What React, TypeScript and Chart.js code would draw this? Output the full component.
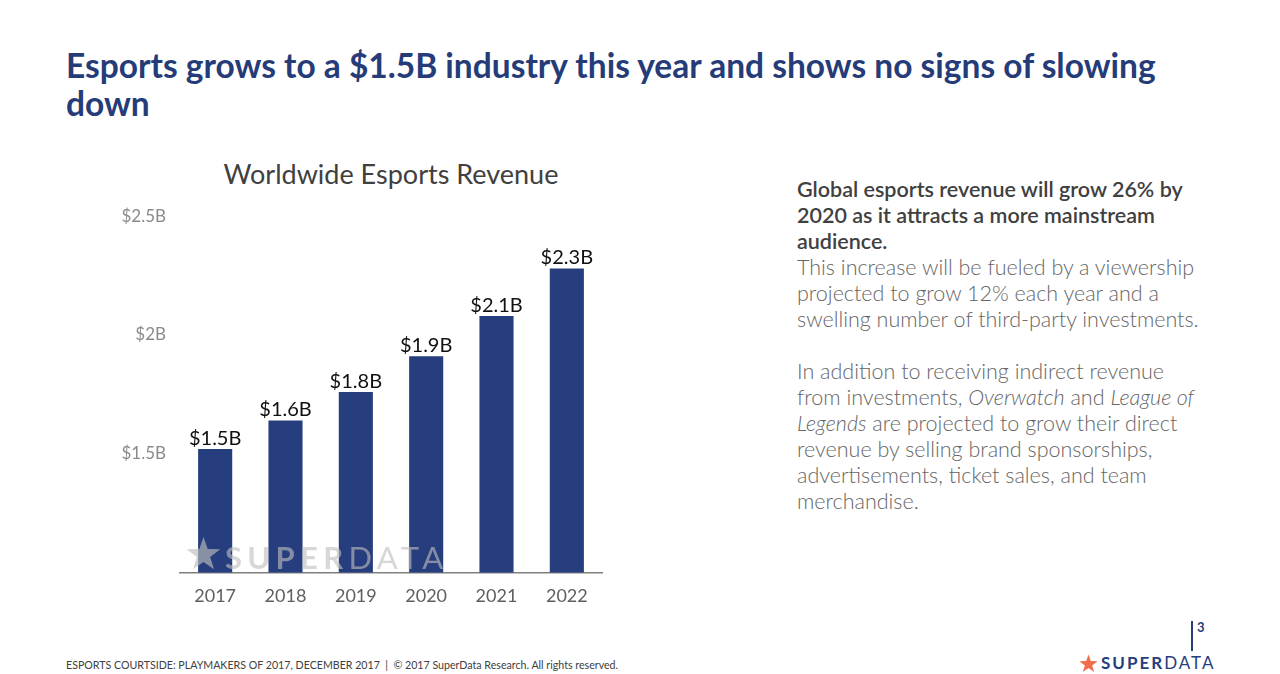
import React, { useEffect, useRef } from 'react';
import { Chart, registerables } from 'chart.js';

Chart.register(...registerables);

const categories = ['2017', '2018', '2019', '2020', '2021', '2022'];
const revenue = [1.52, 1.64, 1.76, 1.91, 2.08, 2.28];
const valueLabels = ['$1.5B', '$1.6B', '$1.8B', '$1.9B', '$2.1B', '$2.3B'];
const yTicks = [1.5, 2, 2.5];
const yTickLabels = ['$1.5B', '$2B', '$2.5B'];
const yMin = 1;
const yMax = 2.5;

const NAVY = '#263e7d';

const barLabelPlugin = {
  id: 'barLabels',
  afterDatasetsDraw(chart: any) {
    const ctx = chart.ctx;
    const meta = chart.getDatasetMeta(0);
    ctx.save();
    ctx.font = '20px Lato';
    ctx.fillStyle = '#111111';
    ctx.textAlign = 'center';
    ctx.textBaseline = 'alphabetic';
    meta.data.forEach((el: any, i: number) => {
      ctx.fillText(valueLabels[i], el.x, el.y - 4);
    });
    ctx.restore();
  },
};

function RevenueChart() {
  const ref = useRef<HTMLCanvasElement | null>(null);
  useEffect(() => {
    if (!ref.current) return;
    const chart = new Chart(ref.current, {
      type: 'bar',
      data: {
        labels: categories,
        datasets: [
          {
            data: revenue,
            backgroundColor: NAVY,
            borderWidth: 0,
            barPercentage: 0.485,
            categoryPercentage: 1,
          },
        ],
      },
      options: {
        animation: false,
        responsive: false,
        devicePixelRatio: 1,
        layout: { padding: { top: 14, right: 8, left: 0, bottom: 0 } },
        plugins: {
          legend: { display: false },
          title: { display: false },
          tooltip: { enabled: false },
        },
        scales: {
          x: {
            grid: { display: false, drawTicks: false },
            border: { display: true, color: '#7f7f7f', width: 1.5 },
            ticks: {
              font: { family: 'Lato', size: 18 },
              color: '#5f5f5f',
              padding: 13,
            },
          },
          y: {
            min: yMin,
            max: yMax,
            afterBuildTicks: (scale: any) => {
              scale.ticks = yTicks.map((v) => ({ value: v }));
            },
            afterFit: (scale: any) => {
              scale.width = 80;
            },
            grid: { display: false, drawTicks: false },
            border: { display: false },
            ticks: {
              font: { family: 'Lato', size: 17 },
              color: '#8a8a8a',
              padding: 14,
              callback: (v: any) => {
                const i = yTicks.indexOf(Number(v));
                return i >= 0 ? yTickLabels[i] : '';
              },
            },
          },
        },
      },
      plugins: [barLabelPlugin],
    } as any);
    return () => chart.destroy();
  }, []);
  return (
    <canvas
      ref={ref}
      width={510}
      height={428}
      style={{ position: 'absolute', left: 100, top: 192, width: 510, height: 428 }}
    />
  );
}

function Star({ size, color }: { size: number; color: string }) {
  return (
    <svg width={size} height={size} viewBox="0 0 100 100" style={{ display: 'block' }}>
      <polygon
        points="50,3 62,37 98,38 69,60 80,95 50,74 20,95 31,60 2,38 38,37"
        fill={color}
      />
    </svg>
  );
}

const abs = (o: any) => ({ position: 'absolute' as const, whiteSpace: 'nowrap' as const, ...o });

export default function App() {
  useEffect(() => {
    document.body.style.margin = '0';
  }, []);

  const boldLines = [
    'Global esports revenue will grow 26% by',
    '2020 as it attracts a more mainstream',
    'audience.',
  ];

  return (
    <div
      style={{
        position: 'relative',
        width: 1280,
        height: 674,
        background: '#ffffff',
        overflow: 'hidden',
        fontFamily: 'Lato, sans-serif',
      }}
    >
      <div
        style={abs({
          left: 66,
          top: 46,
          fontSize: 33.5,
          lineHeight: '38px',
          fontWeight: 700,
          color: '#253c78',
        })}
      >
        Esports grows to a $1.5B industry this year and shows no signs of slowing
        <br />
        down
      </div>

      <div
        style={abs({
          left: 191,
          width: 400,
          top: 159,
          textAlign: 'center',
          fontSize: 27,
          lineHeight: '30px',
          color: '#404040',
        })}
      >
        Worldwide Esports Revenue
      </div>

      <RevenueChart />

      <div
        style={abs({
          left: 186,
          top: 536,
          pointerEvents: 'none',
          opacity: 0.65,
        })}
      >
        <Star size={35} color="#bebebe" />
      </div>
      <div
        style={abs({
          left: 225,
          top: 539,
          fontSize: 31,
          lineHeight: '36px',
          letterSpacing: '5.3px',
          color: 'rgba(190,190,190,0.62)',
          pointerEvents: 'none',
        })}
      >
        <span style={{ fontWeight: 700 }}>SUPER</span>
        <span style={{ fontWeight: 400 }}>DATA</span>
      </div>

      <div
        style={abs({
          left: 797,
          top: 175.5,
          fontSize: 21.5,
          lineHeight: '26px',
        })}
      >
        {boldLines.map((l, i) => (
          <div key={'b' + i} style={{ fontWeight: 600, color: '#404040' }}>
            {l}
          </div>
        ))}
        <div style={{ color: '#666666', fontWeight: 300 }}>
          <div>This increase will be fueled by a viewership</div>
          <div>projected to grow 12% each year and a</div>
          <div>swelling number of third-party investments.</div>
          <div>&nbsp;</div>
          <div>In addition to receiving indirect revenue</div>
          <div>
            from investments, <i>Overwatch</i> and <i>League of</i>
          </div>
          <div>
            <i>Legends</i> are projected to grow their direct
          </div>
          <div>revenue by selling brand sponsorships,</div>
          <div>advertisements, ticket sales, and team</div>
          <div>merchandise.</div>
        </div>
      </div>

      <div
        style={abs({
          left: 66,
          top: 658,
          fontSize: 10.65,
          lineHeight: '13px',
          color: '#404040',
        })}
      >
        ESPORTS COURTSIDE: PLAYMAKERS OF 2017, DECEMBER 2017&nbsp; |&nbsp; © 2017 SuperData Research. All rights reserved.
      </div>

      <div style={abs({ left: 1191, top: 621, width: 2, height: 30, background: NAVY })} />
      <div
        style={abs({
          left: 1197,
          top: 619,
          fontSize: 13,
          lineHeight: '16px',
          fontWeight: 700,
          color: NAVY,
        })}
      >
        3
      </div>
      <div style={abs({ left: 1079, top: 654 })}>
        <Star size={19} color="#f26b4a" />
      </div>
      <div
        style={abs({
          left: 1101,
          top: 653,
          fontSize: 17,
          lineHeight: '20px',
          letterSpacing: '2px',
          color: NAVY,
        })}
      >
        <span style={{ fontWeight: 700 }}>SUPER</span>
        <span style={{ fontWeight: 400 }}>DATA</span>
      </div>
    </div>
  );
}
